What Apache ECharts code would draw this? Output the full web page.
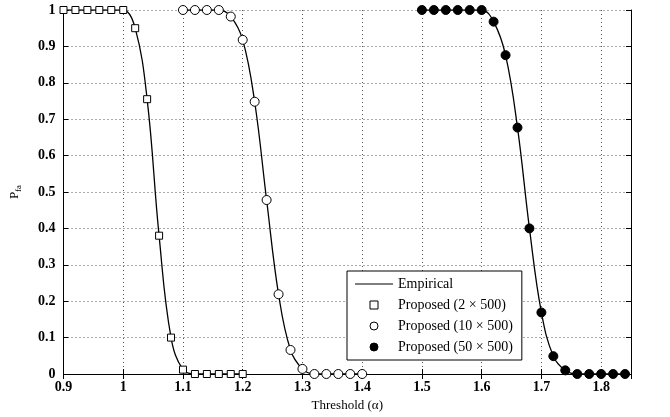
<!DOCTYPE html>
<html>
<head>
<meta charset="utf-8">
<script src="https://cdn.jsdelivr.net/npm/echarts@6/dist/echarts.min.js"></script>
<style>html,body{margin:0;padding:0;background:#fff}#c{width:670px;height:417px}</style>
</head>
<body>
<div id="c"></div>
<script>
// Proposed (2 x 500)
const x2 = [0.90,0.92,0.94,0.96,0.98,1.00,1.02,1.04,1.06,1.08,1.10,1.12,1.14,1.16,1.18,1.20];
const y2 = [1,1,1,1,1,1,0.95,0.755,0.38,0.10,0.012,0,0,0,0,0];
// Proposed (10 x 500)
const x10 = [1.10,1.12,1.14,1.16,1.18,1.20,1.22,1.24,1.26,1.28,1.30,1.32,1.34,1.36,1.38,1.40];
const y10 = [1,1,1,1,0.982,0.918,0.748,0.478,0.219,0.066,0.014,0,0,0,0,0];
// Proposed (50 x 500)
const x50 = [1.50,1.52,1.54,1.56,1.58,1.60,1.62,1.64,1.66,1.68,1.70,1.72,1.74,1.76,1.78,1.80,1.82,1.84];
const y50 = [1,1,1,1,1,1,0.968,0.876,0.677,0.40,0.169,0.049,0.01,0,0,0,0,0];
// Empirical curves (same sampling as the markers)
const e2 = y2, e10 = y10, e50 = y50;

const xTicksMin = 0.9, xTicksMax = 1.85, xStep = 0.1;
const yTicksMin = 0, yTicksMax = 1, yStep = 0.1;

const zip = (xs, ys) => xs.map((v, i) => [v, ys[i]]);
const FONT = '"Liberation Serif", "Times New Roman", serif';

const lineS = (d) => ({
  name: 'Empirical', type: 'line', data: d, smooth: 0.4, showSymbol: false, symbol: 'none',
  lineStyle: { color: '#000', width: 1.3 }, itemStyle: { color: '#000' }, z: 2, silent: true
});
const scatS = (name, d, symbol, size, fill) => ({
  name, type: 'scatter', data: d, symbol, symbolSize: size, z: 3,
  itemStyle: { color: fill, borderColor: '#000', borderWidth: 1, opacity: 1 }
});

const chart = echarts.init(document.getElementById('c'), null, { renderer: 'canvas' });
chart.setOption({
  animation: false,
  backgroundColor: '#fff',
  textStyle: { fontFamily: FONT },
  grid: { left: 61, right: 39, top: 10, bottom: 43, containLabel: false },
  legend: {
    left: 347, top: 271, orient: 'vertical',
    symbolKeepAspect: true,
    data: [
      { name: 'Empirical', icon: 'path://M0 0 H40 V1.3 H0 Z', itemStyle: { color: '#000', borderWidth: 0 } },
      { name: 'Proposed (2 × 500)', icon: 'path://M0 0 H10 V10 H0 Z',
        itemStyle: { color: '#fff', borderColor: '#000', borderWidth: 1 } },
      { name: 'Proposed (10 × 500)', icon: 'circle', itemStyle: { color: '#fff', borderColor: '#000', borderWidth: 1 } },
      { name: 'Proposed (50 × 500)', icon: 'circle', itemStyle: { color: '#000', borderColor: '#000', borderWidth: 1 } }
    ],
    itemWidth: 38, itemHeight: 8, itemGap: 7,
    padding: [6, 9, 6, 8],
    borderColor: '#000', borderWidth: 1, backgroundColor: '#fff',
    textStyle: { fontFamily: FONT, fontSize: 14, color: '#000' },
    selectedMode: false
  },
  xAxis: [{
    type: 'value', min: xTicksMin, max: xTicksMax, interval: xStep,
    name: 'Threshold (α)', nameLocation: 'middle', nameGap: 24,
    nameTextStyle: { fontFamily: FONT, fontSize: 13, color: '#000' },
    axisLine: { lineStyle: { color: '#000', width: 1 } },
    axisTick: { inside: true, length: 5, lineStyle: { color: '#000' } },
    axisLabel: { fontFamily: FONT, fontWeight: 'bold', fontSize: 14, color: '#000', margin: 6, showMaxLabel: false,
      formatter: v => String(Math.round(v * 10) / 10) },
    splitLine: { show: true, lineStyle: { color: '#555', type: [1, 3], width: 1 } }
  }, {
    type: 'value', min: xTicksMin, max: xTicksMax, interval: xStep, position: 'top',
    axisLine: { lineStyle: { color: '#000', width: 1 } },
    axisTick: { inside: true, length: 5, lineStyle: { color: '#000' } },
    axisLabel: { show: false }, splitLine: { show: false }
  }],
  yAxis: [{
    type: 'value', min: yTicksMin, max: yTicksMax, interval: yStep,
    name: '{p|P}{s|fa}', nameLocation: 'middle', nameGap: 40, nameRotate: 90,
    nameTextStyle: { fontFamily: FONT, color: '#000',
      rich: { p: { fontFamily: FONT, fontSize: 13, lineHeight: 18, color: '#000' },
              s: { fontFamily: FONT, fontSize: 9, lineHeight: 18, verticalAlign: 'bottom', color: '#000' } } },
    axisLine: { show: true, lineStyle: { color: '#000', width: 1 } },
    axisTick: { show: true, inside: true, length: 5, lineStyle: { color: '#000' } },
    axisLabel: { fontFamily: FONT, fontWeight: 'bold', fontSize: 14, color: '#000', margin: 8,
      formatter: v => String(Math.round(v * 10) / 10) },
    splitLine: { show: true, lineStyle: { color: '#555', type: [1, 3], width: 1 } }
  }, {
    type: 'value', min: yTicksMin, max: yTicksMax, interval: yStep, position: 'right',
    axisLine: { show: true, lineStyle: { color: '#000', width: 1 } },
    axisTick: { show: true, inside: true, length: 5, lineStyle: { color: '#000' } },
    axisLabel: { show: false }, splitLine: { show: false }
  }],
  series: [
    lineS(zip(x2, e2)),
    lineS(zip(x10, e10)),
    lineS(zip(x50, e50)),
    scatS('Proposed (2 × 500)', zip(x2, y2), 'rect', 7, '#fff'),
    scatS('Proposed (10 × 500)', zip(x10, y10), 'circle', 9, '#fff'),
    scatS('Proposed (50 × 500)', zip(x50, y50), 'circle', 9, '#000')
  ]
});
</script>
</body>
</html>
